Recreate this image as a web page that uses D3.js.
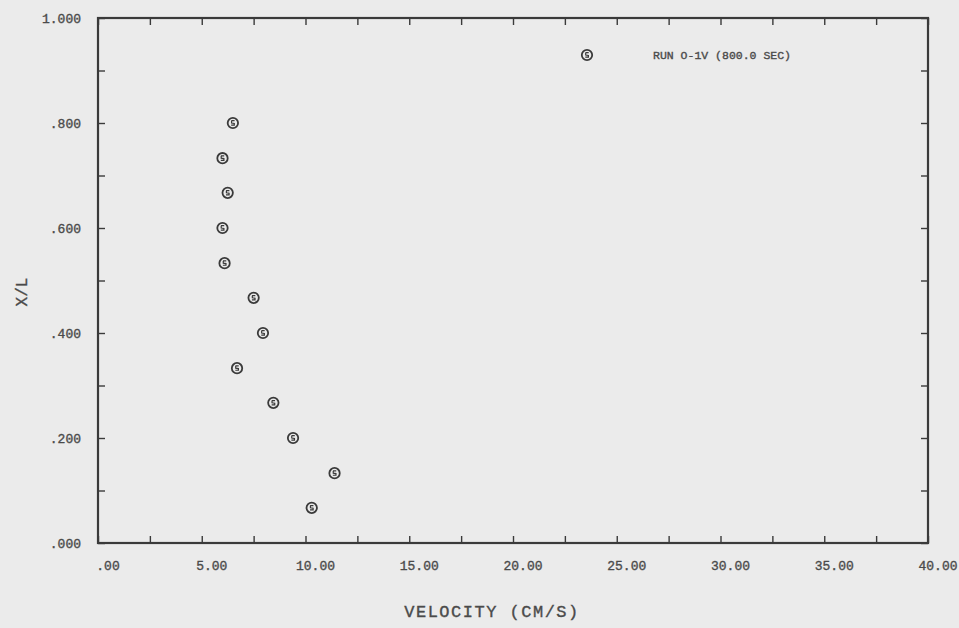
<!DOCTYPE html>
<html>
<head>
<meta charset="utf-8">
<script src="https://cdn.jsdelivr.net/npm/d3@7"></script>
<style>
  html, body { margin: 0; padding: 0; background: #ebebeb; }
  svg { display: block; }
  text { font-family: "Liberation Mono", "DejaVu Sans Mono", monospace; fill: #4a4a4a; stroke: #4a4a4a; stroke-width: 0.35px; }
</style>
</head>
<body>
<svg id="chart" width="959" height="628"></svg>
<script>
// values
const xPos = [0.800, 0.733, 0.667, 0.600, 0.533, 0.467, 0.400, 0.333, 0.267, 0.200, 0.133, 0.067];
const velocity = [6.5, 6.0, 6.25, 6.0, 6.1, 7.5, 7.95, 6.7, 8.45, 9.4, 11.4, 10.3];
const xTickLabels = ['.00', '5.00', '10.00', '15.00', '20.00', '25.00', '30.00', '35.00', '40.00'];
const yTickLabels = ['.000', '.200', '.400', '.600', '.800', '1.000'];
const legendLabel = 'RUN O-1V (800.0 SEC)';

const svg = d3.select('#chart');
const margin = { left: 98, right: 31, top: 18, bottom: 85 };
const w = 959 - margin.left - margin.right;
const h = 628 - margin.top - margin.bottom;
const ink = '#3a3a3a';

const x = d3.scaleLinear().domain([0, 40]).range([0, w]);
const y = d3.scaleLinear().domain([0, 1]).range([h, 0]);

const g = svg.append('g').attr('transform', `translate(${margin.left},${margin.top})`);

// ticks every 2.5 on x and 0.1 on y, pointing in on all four sides
const xTicks = d3.range(0, 40.01, 2.5);
const yTicks = d3.range(0, 1.001, 0.1);

function styleAxis(sel) {
  sel.select('.domain').remove();
  sel.selectAll('.tick line').attr('stroke', ink).attr('stroke-width', 1.4);
  sel.selectAll('.tick text').remove();
}

g.append('g').attr('transform', `translate(0,${h})`)
  .call(d3.axisBottom(x).tickValues(xTicks).tickSize(-7)).call(styleAxis);
g.append('g')
  .call(d3.axisTop(x).tickValues(xTicks).tickSize(-7)).call(styleAxis);
g.append('g')
  .call(d3.axisLeft(y).tickValues(yTicks).tickSize(-7)).call(styleAxis);
g.append('g').attr('transform', `translate(${w},0)`)
  .call(d3.axisRight(y).tickValues(yTicks).tickSize(-7)).call(styleAxis);

// frame
g.append('rect')
  .attr('width', w).attr('height', h)
  .attr('fill', 'none').attr('stroke', ink).attr('stroke-width', 2.2);

// tick labels
g.selectAll('.xlab')
  .data(xTickLabels)
  .enter()
  .append('text')
  .attr('x', (d, i) => x(i * 5) + 10)
  .attr('y', h + 27)
  .attr('text-anchor', 'middle')
  .style('font-size', '13px')
  .text(d => d);

g.selectAll('.ylab')
  .data(yTickLabels)
  .enter()
  .append('text')
  .attr('x', -17)
  .attr('y', (d, i) => y(i * 0.2) + 5)
  .attr('text-anchor', 'end')
  .style('font-size', '13px')
  .text(d => d);

// axis titles
svg.append('text')
  .attr('x', 492)
  .attr('y', 617)
  .attr('text-anchor', 'middle')
  .style('font-size', '17px')
  .style('letter-spacing', '1.5px')
  .text('VELOCITY (CM/S)');

svg.append('text')
  .attr('transform', 'translate(27,292) rotate(-90)')
  .attr('text-anchor', 'middle')
  .style('font-size', '16px')
  .text('X/L');

// markers
function marker(sel) {
  sel.append('circle').attr('r', 5.2)
    .attr('fill', 'none').attr('stroke', ink).attr('stroke-width', 1.8);
  sel.append('path').attr('d', 'M-1.6,-2.3 L1.7,-2.3 M-1.3,-2.1 L-1.3,0 L1.4,0.4 L1.4,2.1 L-1.7,2.1')
    .attr('fill', 'none').attr('stroke', ink).attr('stroke-width', 1.2);
}

g.selectAll('.pt')
  .data(velocity.map((v, i) => ({ v, xl: xPos[i] })))
  .enter()
  .append('g')
  .attr('transform', d => `translate(${x(d.v)},${y(d.xl)})`)
  .call(marker);

// legend
const leg = g.append('g').attr('transform', `translate(${587 - margin.left},${55 - margin.top})`);
leg.append('g').call(marker);
leg.append('text')
  .attr('x', 66)
  .attr('y', 4)
  .style('font-size', '11.5px')
  .text(legendLabel);
</script>
</body>
</html>
